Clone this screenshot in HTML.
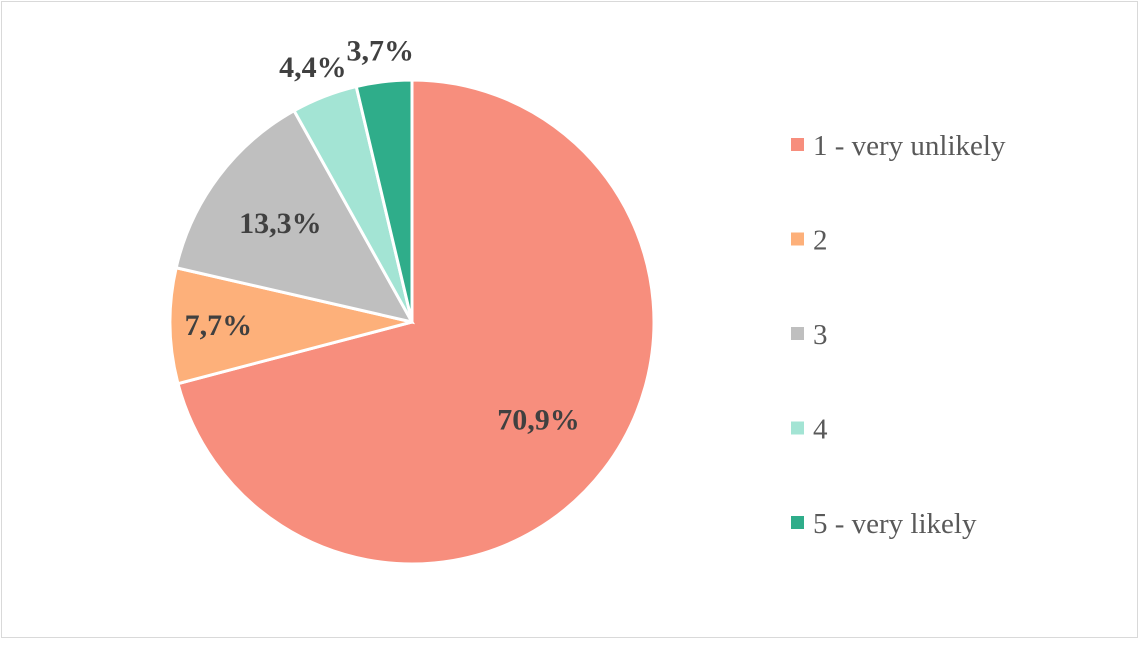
<!DOCTYPE html>
<html><head><meta charset="utf-8"><style>
body{margin:0;background:#fff;width:1140px;height:641px;overflow:hidden}
svg text{font-family:"Liberation Serif",serif}
</style></head><body>
<svg width="1140" height="641">
<rect x="1.5" y="1.5" width="1136" height="636" fill="#fff" stroke="#d9d9d9"/>
<g id="slices"></g><g id="labels"></g><g id="legend"></g>
</svg>
<script>
const categories=["1 - very unlikely","2","3","4","5 - very likely"];
const values=[70.9,7.7,13.3,4.4,3.7];
const valueLabels=["70,9%","7,7%","13,3%","4,4%","3,7%"];
const colors=["#F78E7D","#FDB07A","#BFBFBF","#A3E4D4","#2FAD8A"];
const cx=412,cy=322,r=242;
const NS="http://www.w3.org/2000/svg";
const total=values.reduce((a,b)=>a+b,0);
const sG=document.getElementById('slices'),lG=document.getElementById('labels'),gG=document.getElementById('legend');
let a0=0;
const labelR=[0.66,0.8,0.68,1.13,1.13];
values.forEach((v,i)=>{
  const a1=a0+v/total*2*Math.PI;
  const p=(a)=>[cx+r*Math.sin(a),cy-r*Math.cos(a)];
  const [x0,y0]=p(a0),[x1,y1]=p(a1);
  const path=document.createElementNS(NS,'path');
  path.setAttribute('d',`M${cx},${cy}L${x0},${y0}A${r},${r} 0 ${a1-a0>Math.PI?1:0} 1 ${x1},${y1}Z`);
  path.setAttribute('fill',colors[i]);path.setAttribute('stroke','#fff');path.setAttribute('stroke-width','3');
  
  
  sG.appendChild(path);
  const am=(a0+a1)/2,lr=r*labelR[i];
  const t=document.createElementNS(NS,'text');
  t.setAttribute('x',cx+lr*Math.sin(am));t.setAttribute('y',cy-lr*Math.cos(am)+10);
  t.setAttribute('text-anchor','middle');t.setAttribute('font-size','30');t.setAttribute('font-weight','bold');t.setAttribute('fill','#404040');
  t.textContent=valueLabels[i];
  
  
  lG.appendChild(t);
  a0=a1;
});
categories.forEach((c,i)=>{
  const y=145+i*94.5;
  const g=document.createElementNS(NS,'g');
  
  
  const sq=document.createElementNS(NS,'rect');
  sq.setAttribute('x',791);sq.setAttribute('y',y-7);sq.setAttribute('width',13);sq.setAttribute('height',13);sq.setAttribute('fill',colors[i]);
  const t=document.createElementNS(NS,'text');
  t.setAttribute('x',813);t.setAttribute('y',y+10);t.setAttribute('font-size','29');t.setAttribute('fill','#595959');
  t.textContent=c;
  g.appendChild(sq);g.appendChild(t);gG.appendChild(g);
});
</script>
</body></html>
